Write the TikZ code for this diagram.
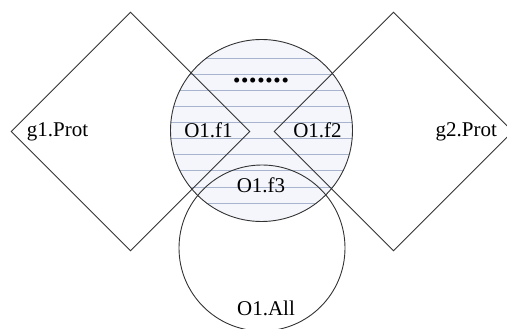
\documentclass[tikz,border=0pt]{standalone}
\usepackage{fontspec}
\setmainfont{Liberation Serif}
\newfontfamily\dotfont[LetterSpace=3.5]{Liberation Serif}
\usepackage{xcolor}
\usetikzlibrary{shapes.geometric,positioning}
\definecolor{hatchblue}{RGB}{168,180,206}
\definecolor{paleblue}{RGB}{244,246,251}

\begin{document}
\begin{tikzpicture}[
  x=1pt, y=-1pt,
  font=\fontsize{21}{24}\selectfont,
  line width=0.9pt,
  set/.style   = {draw=black!80, circle, inner sep=0pt},
  grp/.style   = {draw=black!80, diamond, inner sep=0pt,
                  minimum width=239pt, minimum height=239pt},
  lbl/.style   = {inner sep=0pt, anchor=base},
  hatch/.style = {draw=hatchblue, line width=0.7pt}
]
\useasboundingbox (0,0) rectangle (507,329);
%% Hatched set
\node[circle, inner sep=0pt, fill=paleblue, minimum size=182pt]
      (fsb) at (261.5,130.5) {};
\begin{scope}
  \clip (fsb.center) circle[radius=91];
  \foreach \k in {0,...,9}{
    \draw[hatch] (160,58.5+16.05*\k) -- (365,58.5+16.05*\k);}
\end{scope}
\node[set, minimum size=182pt] (fs) at (fsb) {};
%% Groups and whole set
\node[grp] (lg)  at (130.5,131.5) {};
\node[grp] (rg)  at (393.5,131.5) {};
\node[set, minimum size=166pt] (all) at (262,248) {};
%% Labels
\node[inner sep=0pt, right=16pt of lg.west] (g1) {g1.Prot};
\node[inner sep=0pt, left=16pt of rg.east]  (g2) {g2.Prot};
\node[lbl] (f1)  at (208.5,138) {O1.f1};
\node[lbl] (f2)  at (317.5,138) {O1.f2};
\node[lbl] (f3)  at (261,193)   {O1.f3};
\node[lbl] (oal) at (266,316)   {O1.All};
\node[lbl, font=\dotfont\fontsize{21}{24}\selectfont] (dts) at (261,88) {•••••••};
\end{tikzpicture}
\end{document}
